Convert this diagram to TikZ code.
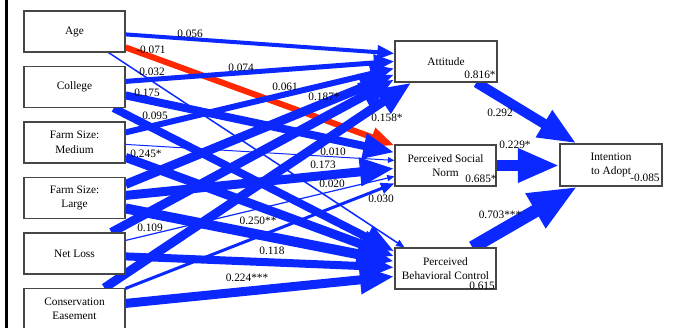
\documentclass[tikz,border=0pt]{standalone}
\usepackage{fontspec}
\setmainfont{Liberation Serif}
\usetikzlibrary{arrows.meta,calc}
\pgfdeclarelayer{background}
\pgfsetlayers{background,main}
\definecolor{pathblue}{RGB}{10,40,255}
\definecolor{pathred}{RGB}{255,40,0}
\definecolor{boxline}{RGB}{70,70,70}
\begin{document}
\begin{tikzpicture}[x=0.75pt,y=-0.75pt,
  varbox/.style={draw=boxline,line width=0.9pt,fill=white,minimum width=75.75pt,minimum height=30.75pt,inner sep=0pt,align=center,font=\fontsize{8.5}{10.9}\selectfont},
  coef/.style={inner sep=0pt,font=\fontsize{8.5}{10}\selectfont},
  effect/.style={draw=pathblue,line width=#1*0.75pt,-{Triangle[length=2.25pt 3.5,width=2.25pt 2.6]}},
  negeffect/.style={draw=pathred,line width=#1*0.75pt,-{Triangle[length=2.25pt 3.5,width=2.25pt 2.6]}}
]
\useasboundingbox (0,0) rectangle (675,328);
\draw[line width=2.25pt] (6.5,0) -- (6.5,328);

% exogenous boxes
\node[varbox] (age) at (74.5,31.5) {Age};
\node[varbox] (college) at (74.5,87) {College};
\node[varbox] (farmmed) at (74.5,142.5) {Farm Size:\\Medium};
\node[varbox] (farmlarge) at (74.5,198) {Farm Size:\\Large};
\node[varbox] (netloss) at (74.5,253.5) {Net Loss};
\node[varbox] (cons) at (74.5,309) {Conservation\\Easement};
% mediators and outcome
\node[varbox,minimum width=76.5pt] (att) at (446,61.5) {Attitude};
\node[varbox] (psn) at (445.5,165.5) {Perceived Social\\Norm};
\node[varbox] (pbc) at (445.5,268.5) {Perceived\\Behavioral Control};
\node[varbox,minimum width=76.5pt,minimum height=31.5pt] (int) at (611,165) {Intention\\to Adopt};

% R-squared values
\node[coef] (r2att) at (480,75) {0.816*};
\node[coef] (r2psn) at (481,179) {0.685*};
\node[coef] (r2pbc) at (482,286) {0.615};
\node[coef] (r2int) at (645,178) {-0.085};

\begin{pgfonlayer}{background}
% Age
\draw[effect=4] ($(age.north east)+(0,24)$) -- ($(att.north west)+(0,13)$);
\draw[negeffect=6] ($(age.north east)+(0,37)$) -- ($(psn.north west)+(0,1)$);
\draw[effect=1.5] ($(age.south east)+(-17,0)$) -- ($(pbc.north west)+(10,0)$);
% College
\draw[effect=5] ($(college.north east)+(0,15.5)$) -- ($(att.north west)+(0,21)$);
\draw[effect=8] ($(college.north east)+(0,29.5)$) -- ($(psn.north west)+(0,8)$);
\draw[effect=8] ($(college.south east)+(-12,0)$) -- ($(pbc.north west)+(0,4)$);
% Farm size medium
\draw[effect=6] ($(farmmed.north east)+(0,11)$) -- ($(att.north west)+(0,28)$);
\draw[effect=1] ($(farmmed.north east)+(0,23)$) -- ($(psn.north west)+(0,16)$);
\draw[effect=9] ($(farmmed.north east)+(0,36)$) -- ($(pbc.north west)+(0,9)$);
% Farm size large
\draw[effect=9] ($(farmlarge.north east)+(0,7.5)$) -- ($(att.north west)+(0,34)$);
\draw[effect=9] ($(farmlarge.north east)+(0,18.5)$) -- ($(psn.north west)+(0,24)$);
\draw[effect=10] ($(farmlarge.north east)+(0,31.5)$) -- ($(pbc.north west)+(0,14)$);
% Net loss
\draw[effect=9] ($(netloss.north west)+(88,0)$) -- ($(att.north west)+(0,39)$);
\draw[effect=1.2] ($(netloss.north east)+(0,8)$) -- ($(psn.north west)+(0,32)$);
\draw[effect=8] ($(netloss.north east)+(0,24)$) -- ($(pbc.north west)+(0,20)$);
% Conservation easement
\draw[effect=9] ($(cons.north west)+(81,0)$) -- ($(att.south west)+(17,0)$);
\draw[effect=3] ($(cons.north east)+(0,0.5)$) -- ($(psn.north west)+(0,39)$);
\draw[effect=9] ($(cons.north east)+(0,15.5)$) -- ($(pbc.north west)+(0,29)$);
% mediators to intention
\draw[effect=10] ($(att.south west)+(82,0)$) -- ($(int.north west)+(17,0)$);
\draw[effect=11] (psn.east) -- (int.west |- psn.east);
\draw[effect=13] ($(pbc.north west)+(78,0)$) -- ($(int.south west)+(18,0)$);
\end{pgfonlayer}

% coefficients
\node[coef] (c1) at (190,34) {0.056};
\node[coef] (c2) at (151,50) {-0.071};
\node[coef] (c3) at (152,72) {0.032};
\node[coef] (c4) at (241,68) {0.074};
\node[coef] (c5) at (147,93) {0.175};
\node[coef] (c6) at (285,87) {0.061};
\node[coef] (c7) at (324,97) {0.187*};
\node[coef] (c8) at (155,116) {0.095};
\node[coef] (c9) at (387,118) {0.158*};
\node[coef] (c10) at (146,154) {0.245*};
\node[coef] (c11) at (333,152) {0.010};
\node[coef] (c12) at (323,165) {0.173};
\node[coef] (c13) at (332,184) {0.020};
\node[coef] (c14) at (381,199) {0.030};
\node[coef] (c15) at (150,228) {0.109};
\node[coef] (c16) at (258,221) {0.250**};
\node[coef] (c17) at (272,251) {0.118};
\node[coef] (c18) at (247,278) {0.224***};
\node[coef] (c19) at (500,113) {0.292};
\node[coef] (c20) at (515,145) {0.229*};
\node[coef] (c21) at (500,215) {0.703***};
\end{tikzpicture}
\end{document}
